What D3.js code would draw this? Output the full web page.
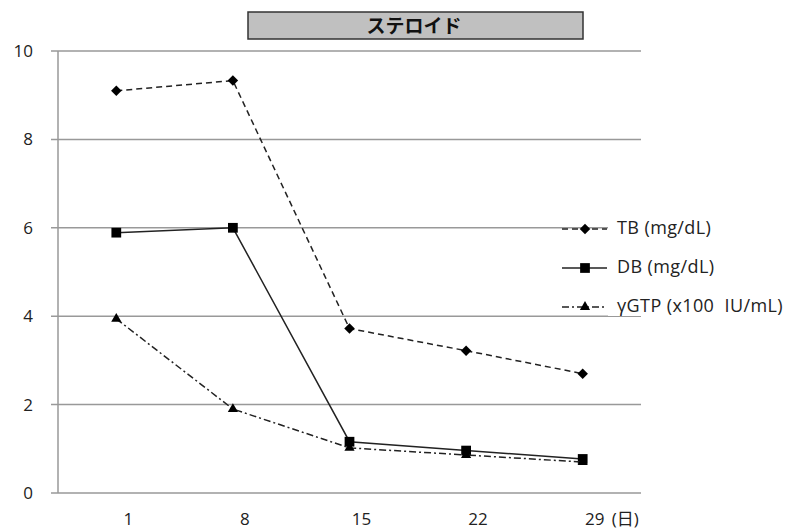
<!DOCTYPE html>
<html>
<head>
<meta charset="utf-8">
<script src="https://cdn.jsdelivr.net/npm/d3@7"></script>
<style>
  body { margin: 0; background: #fff; }
  text { font-family: "Open Sans", "Noto Sans CJK JP", sans-serif; white-space: pre; }
</style>
</head>
<body>
<svg id="chart" width="786" height="532"></svg>
<script>
var days = ["1", "8", "15", "22", "29"];
var tb = [9.1, 9.33, 3.72, 3.22, 2.7];
var db = [5.89, 6.0, 1.16, 0.96, 0.77];
var ggtp = [3.94, 1.9, 1.02, 0.86, 0.7];
var yTicks = [0, 2, 4, 6, 8, 10];
var seriesNames = ["TB (mg/dL)", "DB (mg/dL)", "γGTP (x100  IU/mL)"];

var svg = d3.select("#chart");

let x = d3.scaleBand().domain(days).range([58, 641]);
let y = d3.scaleLinear().domain([0, 10]).range([493, 51]);

// gridlines
svg.append("g").selectAll("line")
    .data(yTicks)
    .enter()
    .append("line")
    .attr("x1", 51).attr("x2", 641)
    .attr("y1", d => y(d)).attr("y2", d => y(d))
    .style("stroke", "#999")
    .style("stroke-width", 1.5);

// y axis line
svg.append("line")
    .attr("x1", 58).attr("x2", 58)
    .attr("y1", y(10)).attr("y2", y(0))
    .style("stroke", "#999")
    .style("stroke-width", 1.5);

// y tick labels
svg.append("g").selectAll("text")
    .data(yTicks)
    .enter()
    .append("text")
    .attr("x", 33)
    .attr("y", d => y(d) + 6)
    .attr("text-anchor", "end")
    .attr("font-size", 17)
    .attr("fill", "#222")
    .text(d => d);

// x tick labels
svg.append("g").selectAll("text")
    .data(days)
    .enter()
    .append("text")
    .attr("x", d => x(d) + x.bandwidth() / 2 + 12)
    .attr("y", 525)
    .attr("text-anchor", "middle")
    .attr("font-size", 17)
    .attr("fill", "#222")
    .text(d => d);
svg.append("text")
    .attr("x", x("29") + x.bandwidth() / 2 + 29)
    .attr("y", 525)
    .attr("font-size", 17)
    .attr("fill", "#222")
    .text("(日)");

// title box
svg.append("rect")
    .attr("x", 248).attr("y", 12)
    .attr("width", 335).attr("height", 27)
    .style("fill", "#c0c0c0")
    .style("stroke", "#333")
    .style("stroke-width", 1.5);
svg.append("text")
    .attr("x", 414).attr("y", 33)
    .attr("text-anchor", "middle")
    .attr("font-size", 19)
    .attr("font-weight", "bold")
    .attr("fill", "#111")
    .text("ステロイド");

var series = [
    { name: seriesNames[0], values: tb, dash: "6,4", shape: d3.symbolSquare, size: 55, rot: 45 },
    { name: seriesNames[1], values: db, dash: null, shape: d3.symbolSquare, size: 95, rot: 0 },
    { name: seriesNames[2], values: ggtp, dash: "7,3,2,3", shape: d3.symbolTriangle, size: 45, rot: 0 }
];

let line = d3.line()
    .x((d, i) => x(days[i]) + x.bandwidth() / 2)
    .y(d => y(d));

series.forEach(function (s) {
    svg.append("path")
        .datum(s.values)
        .attr("d", line)
        .style("fill", "none")
        .style("stroke", "#222")
        .style("stroke-width", 1.5)
        .style("stroke-dasharray", s.dash);
    svg.append("g").selectAll("path")
        .data(s.values)
        .enter()
        .append("path")
        .attr("transform", (d, i) => "translate(" + (x(days[i]) + x.bandwidth() / 2) + "," + y(d) + ") rotate(" + s.rot + ")")
        .attr("d", d3.symbol().type(s.shape).size(s.size))
        .style("fill", "#000");
});

// legend (white box hides gridlines behind)
svg.append("rect")
    .attr("x", 608).attr("y", 200)
    .attr("width", 178).attr("height", 116)
    .style("fill", "#fff");

series.forEach(function (s, i) {
    let ly = 229 + i * 39;
    svg.append("line")
        .attr("x1", 562).attr("x2", 607)
        .attr("y1", ly).attr("y2", ly)
        .style("stroke", "#222")
        .style("stroke-width", 1.5)
        .style("stroke-dasharray", s.dash);
    svg.append("path")
        .attr("transform", "translate(585," + ly + ") rotate(" + s.rot + ")")
        .attr("d", d3.symbol().type(s.shape).size(s.size))
        .style("fill", "#000");
    svg.append("text")
        .attr("x", 617)
        .attr("y", ly + 5)
        .attr("font-size", 18)
        .attr("letter-spacing", 0.4)
        .attr("fill", "#222")
        .text(s.name);
});
</script>
</body>
</html>
